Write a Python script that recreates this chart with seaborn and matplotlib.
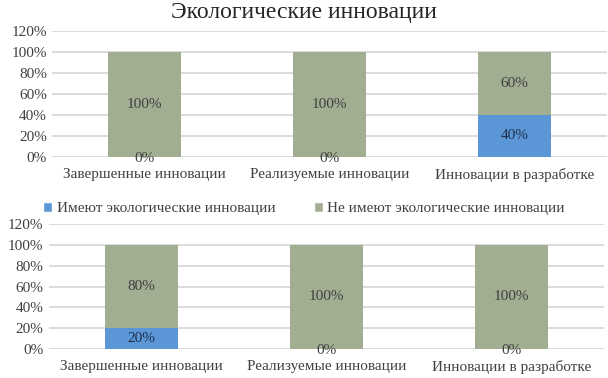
import matplotlib
matplotlib.use("Agg")
import matplotlib.pyplot as plt
import seaborn as sns
import pandas as pd
from matplotlib.patches import Patch
from matplotlib.ticker import PercentFormatter

# ---- data ----
categories = ["Завершенные инновации", "Реализуемые инновации", "Инновации в разработке"]
top_have = [0, 0, 40]
top_not = [100, 100, 60]
bottom_have = [20, 0, 0]
bottom_not = [80, 100, 100]
series_names = ["Имеют экологические инновации", "Не имеют экологические инновации"]
title = "Экологические инновации"
yticks = [0, 20, 40, 60, 80, 100, 120]

sns.set_theme(style="white")
plt.rcParams["font.family"] = ["Liberation Serif", "DejaVu Serif"]

BLUE = "#5B96D6"
GREEN = "#A2AE91"
GRID = "#D9D9D9"
TXT = "#404040"
FS = 11

fig = plt.figure(figsize=(6.08, 3.78), dpi=100)
ax1 = fig.add_axes([0.0863, 0.5847, 0.9117, 0.3333])
ax2 = fig.add_axes([0.0806, 0.0767, 0.9130, 0.3307])


def draw(ax, have, notv):
    df = pd.DataFrame({"cat": categories, "have": have, "not": notv})
    df["total"] = df["have"] + df["not"]
    sns.barplot(data=df, x="cat", y="total", color=GREEN, width=0.395,
                saturation=1, ax=ax, zorder=2, linewidth=0, edgecolor="none")
    sns.barplot(data=df, x="cat", y="have", color=BLUE, width=0.395,
                saturation=1, ax=ax, zorder=3, linewidth=0, edgecolor="none")
    for i, (h, n) in enumerate(zip(have, notv)):
        ax.text(i, h / 2 if h > 0 else -1.5, f"{h}%", ha="center", va="center",
                fontsize=FS, color="#1F2F4F" if h > 0 else TXT, zorder=5)
        ax.text(i, h + n / 2, f"{n}%", ha="center", va="center", fontsize=FS,
                color=TXT, zorder=5)
    ax.set_ylim(0, 120)
    ax.set_xlim(-0.5, 2.5)
    ax.set_yticks(yticks)
    ax.yaxis.set_major_formatter(PercentFormatter(decimals=0))
    ax.grid(axis="y", color=GRID, linewidth=1.3, zorder=0)
    ax.set_axisbelow(True)
    for s in ax.spines.values():
        s.set_visible(False)
    ax.tick_params(axis="both", length=0, labelsize=FS, colors=TXT, pad=4)
    ax.tick_params(axis="x", pad=8)
    ax.set_xlabel("")
    ax.set_ylabel("")
    for t in ax.texts:
        t.set_clip_on(False)


draw(ax1, top_have, top_not)
draw(ax2, bottom_have, bottom_not)

fig.text(0.5, 0.966, title, ha="center", va="center", fontsize=17, color="#262626")

handles = [Patch(facecolor=BLUE), Patch(facecolor=GREEN)]
fig.legend(handles, series_names, loc="center", bbox_to_anchor=(0.5, 0.448),
           ncol=2, frameon=False, fontsize=FS, handlelength=0.6, handleheight=0.6,
           handletextpad=0.3, columnspacing=2.5, labelcolor=TXT)

fig.savefig("out.png", dpi=100)
